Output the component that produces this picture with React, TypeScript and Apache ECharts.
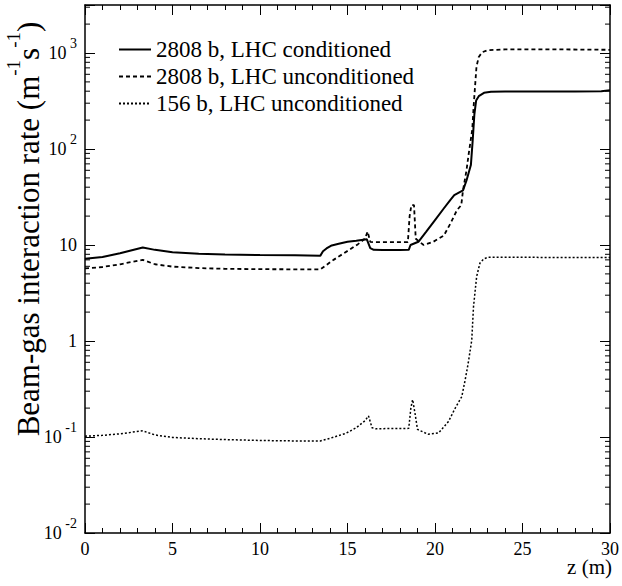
import React, { useEffect, useRef } from "react";
import * as echarts from "echarts";

// ---- data ----
const zCond = [0, 1, 2, 3.3, 4, 5, 6.5, 8, 10, 12, 13.45, 13.6, 13.8, 14.1, 14.5, 15, 15.5, 16.1, 16.3, 16.5, 17, 18, 18.5, 18.6, 19.05, 19.5, 20, 20.5, 20.87, 21.1, 21.6, 21.8, 22.05, 22.15, 22.25, 22.35, 22.5, 22.8, 23.2, 24, 26, 28, 29.5, 30];
const rateCond = [7.2, 7.5, 8.2, 9.4, 8.9, 8.4, 8.1, 7.95, 7.85, 7.8, 7.75, 8.6, 9.2, 9.9, 10.3, 10.8, 11.1, 11.5, 9.3, 8.9, 8.85, 8.85, 8.9, 10.0, 10.8, 13.8, 18.2, 24, 29.4, 33, 37, 47, 68, 120, 230, 320, 355, 385, 395, 398, 398, 398, 400, 410];

const zUncond = [0, 1, 2, 3.3, 4, 5, 6.5, 8, 10, 12, 13.45, 13.8, 14.2, 14.7, 15.1, 15.6, 16.0, 16.15, 16.3, 16.5, 18.45, 18.55, 18.65, 18.8, 18.9, 19.35, 19.9, 20.5, 20.9, 21.25, 21.5, 21.6, 21.8, 21.93, 22.13, 22.22, 22.37, 22.5, 22.7, 23.0, 24, 27, 30];
const rateUncond = [5.7, 5.9, 6.3, 7.0, 6.3, 5.95, 5.75, 5.65, 5.6, 5.58, 5.58, 6.2, 7.0, 8.0, 8.9, 10.2, 11.7, 13.8, 10.8, 10.7, 10.7, 20, 26, 26, 11.6, 10.0, 10.8, 12.5, 17, 23, 26, 37, 60, 90, 160, 300, 720, 910, 1020, 1070, 1090, 1090, 1080];

const z156 = [0, 1, 2, 3.3, 4, 5, 6.5, 8, 10, 12, 13.45, 14, 14.9, 15.5, 16.0, 16.2, 16.4, 16.6, 18.5, 18.62, 18.72, 18.85, 19.0, 19.6, 20.2, 20.77, 21.15, 21.53, 21.72, 21.9, 22.1, 22.2, 22.38, 22.57, 22.8, 23.05, 24, 27, 30];
const rate156 = [0.102, 0.104, 0.108, 0.116, 0.105, 0.099, 0.096, 0.094, 0.092, 0.091, 0.091, 0.097, 0.109, 0.125, 0.148, 0.166, 0.125, 0.122, 0.123, 0.2, 0.245, 0.18, 0.12, 0.107, 0.11, 0.145, 0.199, 0.263, 0.39, 0.59, 1.02, 2.27, 4.7, 6.5, 7.2, 7.45, 7.45, 7.42, 7.4];

const seriesNames = ["2808 b, LHC conditioned", "2808 b, LHC unconditioned", "156 b, LHC unconditioned"];

const xMin = 0;
const xMax = 30;
const xStep = 5;
const yMin = 0.01;
const yMax = Math.pow(10, 3.5);
const minorMultipliers = [2, 3, 4, 5, 6, 7, 8, 9];
const decades = [-2, -1, 0, 1, 2, 3];

const FONT = "'Liberation Serif', 'Times New Roman', serif";

function zip(zs: number[], vs: number[]) {
  return zs.map((z, i) => [z, vs[i]]);
}

function xAxisOpt(position: string, showLabel: boolean) {
  return {
    type: "value",
    position,
    min: xMin,
    max: xMax,
    interval: xStep,
    splitLine: { show: false },
    axisLine: { show: true, onZero: false, lineStyle: { color: "#000", width: 1.5 } },
    axisTick: { show: true, inside: true, length: 10, lineStyle: { color: "#000", width: 1 } },
    minorTick: { show: true, splitNumber: 5, length: 5, lineStyle: { color: "#000", width: 1 } },
    axisLabel: showLabel
      ? { show: true, fontSize: 18, fontFamily: FONT, color: "#000", margin: 7 }
      : { show: false },
  };
}

function yLabel(v: number) {
  const e = Math.log10(v);
  const r = Math.round(e);
  if (Math.abs(e - r) > 1e-6) return "";
  if (r === 1) return "{b|10}";
  if (r === 0) return "{b|1}";
  return "{b|10}{s| " + r + "}";
}

function yAxisOpt(position: string, showLabel: boolean) {
  return {
    type: "log",
    logBase: 10,
    position,
    min: yMin,
    max: yMax,
    splitLine: { show: false },
    axisLine: { show: true, onZero: false, lineStyle: { color: "#000", width: 1.5 } },
    axisTick: { show: true, inside: true, length: 10, lineStyle: { color: "#000", width: 1 } },
    axisLabel: showLabel
      ? {
          show: true,
          formatter: yLabel,
          margin: 8,
          rich: {
            b: { fontSize: 18, fontFamily: FONT, color: "#000", lineHeight: 34 },
            s: { fontSize: 14, fontFamily: FONT, color: "#000", lineHeight: 18, verticalAlign: "top" },
          },
        }
      : { show: false },
  };
}

export default function App() {
  const ref = useRef<HTMLDivElement>(null);
  useEffect(() => {
    if (!ref.current) return;
    document.body.style.margin = "0";
    const chart = echarts.init(ref.current, undefined, { renderer: "svg" });

    const minorVals: number[] = [];
    decades.forEach((d) => {
      minorMultipliers.forEach((m) => {
        const v = m * Math.pow(10, d);
        if (v < yMax) minorVals.push(v);
      });
    });

    chart.setOption({
      animation: false,
      grid: { left: 85, right: 10, top: 5, bottom: 53 },
      xAxis: [xAxisOpt("bottom", true), xAxisOpt("top", false)],
      yAxis: [yAxisOpt("left", true), yAxisOpt("right", false)],
      legend: {
        show: true,
        orient: "vertical",
        left: 113,
        top: 33,
        itemWidth: 32,
        itemHeight: 14,
        itemGap: 4,
        data: seriesNames,
        textStyle: { fontSize: 23, fontFamily: FONT, color: "#000", lineHeight: 23 },
        itemStyle: { opacity: 0 },
        selectedMode: false,
      },
      graphic: [
        {
          type: "text",
          x: 28,
          y: 229,
          rotation: Math.PI / 2,
          style: {
            text: "{t|Beam-gas interaction rate (m}{s|-1}{t|s}{s|-1}{t|)}",
            rich: {
              t: { fontSize: 31, fontFamily: FONT, fill: "#000", lineHeight: 48 },
              s: { fontSize: 19, fontFamily: FONT, fill: "#000", lineHeight: 24, verticalAlign: "top" },
            },
            align: "center",
            verticalAlign: "middle",
          },
        },
        {
          type: "text",
          right: 10,
          top: 556,
          style: { text: "z (m)", fontSize: 21, fontFamily: FONT, fill: "#000" },
        },
      ],
      series: [
        {
          name: seriesNames[0],
          type: "line",
          data: zip(zCond, rateCond),
          symbol: "none",
          lineStyle: { color: "#000", width: 2, type: "solid" },
          itemStyle: { color: "#000" },
        },
        {
          name: seriesNames[1],
          type: "line",
          data: zip(zUncond, rateUncond),
          symbol: "none",
          lineStyle: { color: "#000", width: 1.8, type: [4, 3] },
          itemStyle: { color: "#000" },
        },
        {
          name: seriesNames[2],
          type: "line",
          data: zip(z156, rate156),
          symbol: "none",
          lineStyle: { color: "#000", width: 1.5, type: [2, 2] },
          itemStyle: { color: "#000" },
        },
        {
          type: "custom",
          data: minorVals.map((v) => [15, v]),
          renderItem: (params: any, api: any) => {
            try {
              const v = api.value(1);
              const pl = api.coord([xMin, v]);
              const pr = api.coord([xMax, v]);
              return {
                type: "group",
                children: [
                  { type: "line", shape: { x1: pl[0], y1: pl[1], x2: pl[0] + 5, y2: pl[1] }, style: { stroke: "#000", lineWidth: 1 } },
                  { type: "line", shape: { x1: pr[0] - 5, y1: pr[1], x2: pr[0], y2: pr[1] }, style: { stroke: "#000", lineWidth: 1 } },
                ],
              };
            } catch (e) {
              return null;
            }
          },
        },
      ],
    });
    return () => chart.dispose();
  }, []);
  return <div ref={ref} style={{ width: 622, height: 586 }} />;
}
